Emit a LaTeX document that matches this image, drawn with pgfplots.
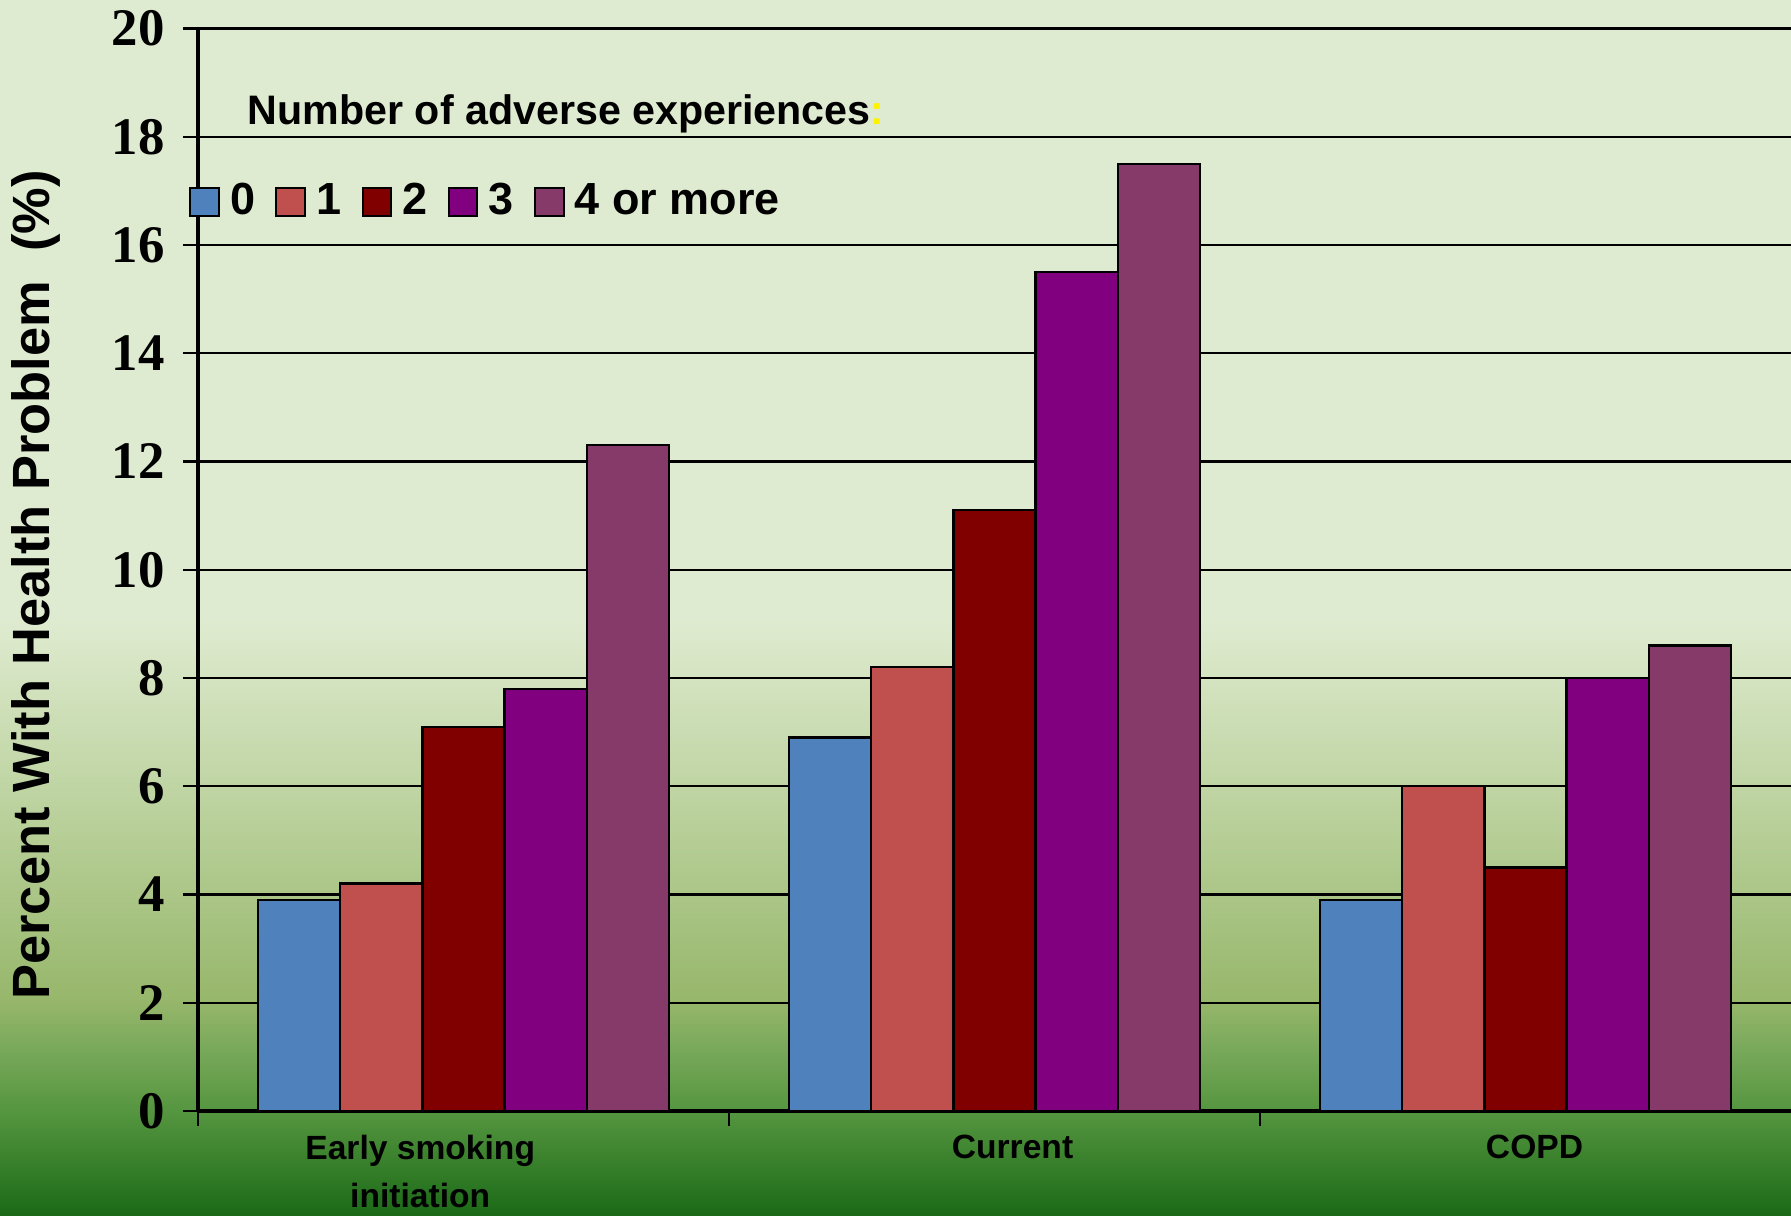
\documentclass[border=0pt]{standalone}
\usepackage{fontspec}
\setmainfont{Liberation Serif}
\setsansfont{Liberation Sans}
\usepackage{pgfplots}
\pgfplotsset{compat=1.18}
\definecolor{bgA}{HTML}{1B6A17}
\definecolor{bgB}{HTML}{569640}
\definecolor{bgC}{HTML}{78A85A}
\definecolor{bgD}{HTML}{97B76B}
\definecolor{bgE}{HTML}{BDD3A0}
\definecolor{bgF}{HTML}{DFEBD0}
\definecolor{cA}{HTML}{4F81BD}
\definecolor{cB}{HTML}{C0504D}
\definecolor{cC}{HTML}{800000}
\definecolor{cD}{HTML}{800080}
\definecolor{cE}{HTML}{853A6A}
\pgfdeclareverticalshading{bgshade}{100bp}{color(0bp)=(bgA); color(25bp)=(bgA); color(29.32bp)=(bgB); color(31.79bp)=(bgC); color(33.85bp)=(bgD); color(42.08bp)=(bgE); color(49.49bp)=(bgF); color(75bp)=(bgF); color(100bp)=(bgF)}
\begin{document}
\begin{tikzpicture}
\shade[shading=bgshade] (0pt,0pt) rectangle (447.75pt,303.75pt);
\begin{axis}[
  at={(49.5pt,26pt)}, anchor=south west,
  scale only axis, width=398.25pt, height=270.625pt,
  xmin=-0.5, xmax=2.5, ymin=0, ymax=20,
  ytick={0,2,...,20},
  xtick={-0.0815,1.034,2.017},
  xticklabels={{Early smoking\\initiation},{Current},{COPD}},
  minor xtick={-0.5,0.5,1.5},
  axis x line*=bottom, axis y line*=left,
  axis line style={black, line width=0.9pt},
  tick align=outside,
  major tick length=3.75pt, minor tick length=3.75pt,
  every tick/.style={black, line width=0.6pt},
  major x tick style={draw=none},
  ymajorgrids, grid style={black, line width=0.6pt},
  /pgf/number format/assume math mode=true,
  xticklabel style={font=\sffamily\bfseries\fontsize{8.4}{11.9}\selectfont, align=center, anchor=north, yshift=1.2pt},
  yticklabel style={font=\rmfamily\bfseries\fontsize{13.2}{15}\selectfont, xshift=-1.1pt},
  ylabel={Percent With Health Problem\ \ (\%)},
  every axis y label/.style={at={(rel axis cs:-0.1015,0.486)}, rotate=90, anchor=center, font=\sffamily\bfseries\fontsize{13.1}{15}\selectfont},
  legend columns=5,
  legend style={at={(rel axis cs:-0.006,0.8395)}, anchor=west, draw=none, fill=none,
    font=\sffamily\bfseries\fontsize{11.25}{13}\selectfont,
    /tikz/every odd column/.append style={column sep=1.1pt},
    /tikz/every even column/.append style={column sep=3.6pt},
    inner sep=0pt, nodes={inner sep=1.5pt}},
  sqlegend/.style={legend image code/.code={\draw[##1, draw=black, line width=0.5pt] (0pt,-3.55pt) rectangle (7.1pt,3.55pt);}},
]
\addplot[ybar, bar width=0.155, bar shift=-0.31, fill=cA, draw=black, line width=0.6pt, sqlegend] coordinates {(0,3.9) (1,6.9) (2,3.9)};
\addlegendentry{0}
\addplot[ybar, bar width=0.155, bar shift=-0.155, fill=cB, draw=black, line width=0.6pt, sqlegend] coordinates {(0,4.2) (1,8.2) (2,6.0)};
\addlegendentry{1}
\addplot[ybar, bar width=0.155, bar shift=0, fill=cC, draw=black, line width=0.6pt, sqlegend] coordinates {(0,7.1) (1,11.1) (2,4.5)};
\addlegendentry{2}
\addplot[ybar, bar width=0.155, bar shift=0.155, fill=cD, draw=black, line width=0.6pt, sqlegend] coordinates {(0,7.8) (1,15.5) (2,8.0)};
\addlegendentry{3}
\addplot[ybar, bar width=0.155, bar shift=0.31, fill=cE, draw=black, line width=0.6pt, sqlegend] coordinates {(0,12.3) (1,17.5) (2,8.6)};
\addlegendentry{4 or more}
\node[anchor=west, inner sep=0pt, font=\sffamily\bfseries\fontsize{10.3}{12}\selectfont] at (rel axis cs:0.0308,0.9213) {Number of adverse experiences{\color{yellow}:}};
\end{axis}
\pgfresetboundingbox
\useasboundingbox (0pt,0pt) rectangle (447.75pt,303.75pt);
\end{tikzpicture}
\end{document}
